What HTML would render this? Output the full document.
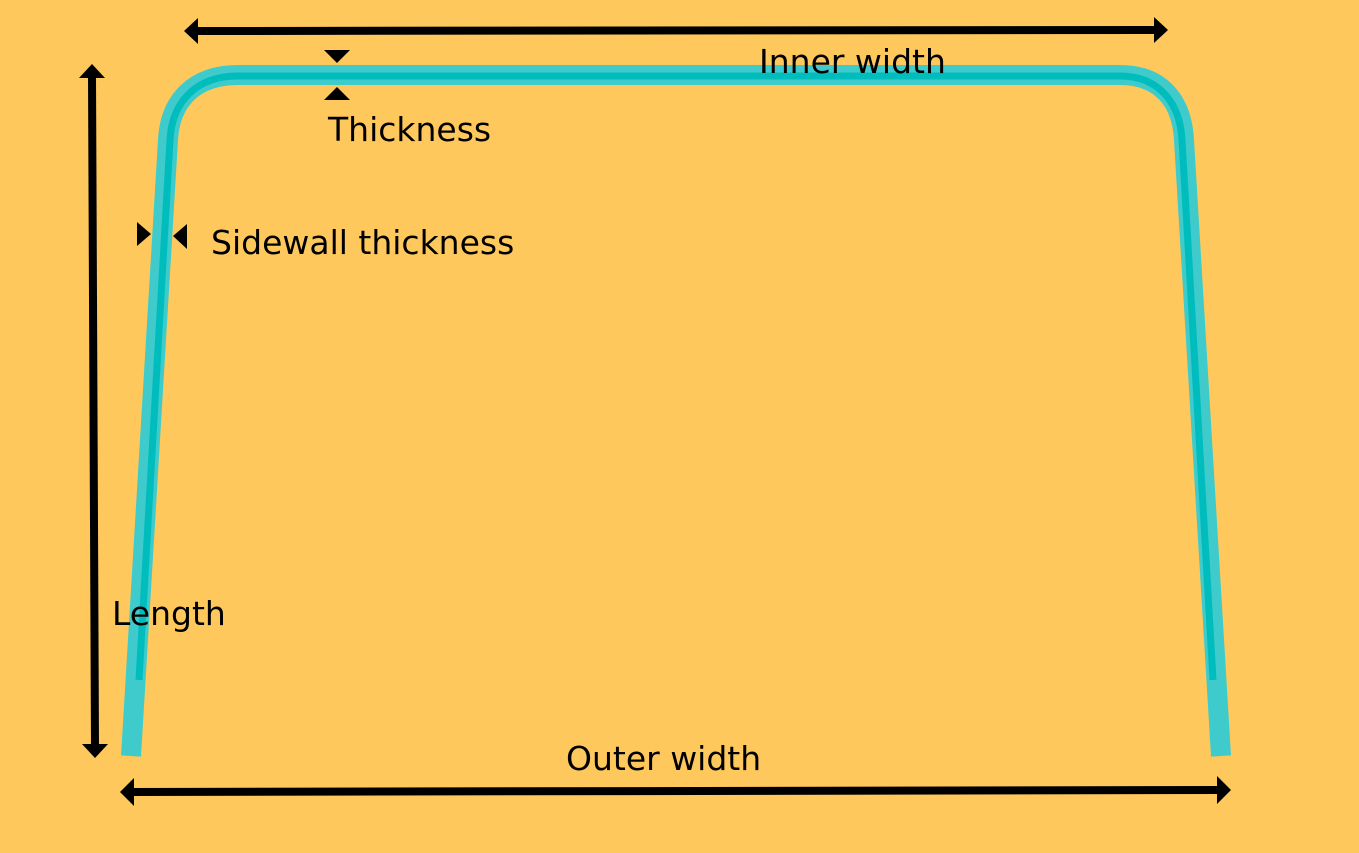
<!DOCTYPE html>
<html><head><meta charset="utf-8"><style>
html,body{margin:0;padding:0;background:#FFC85C;}
svg{display:block}
text{font-family:"DejaVu Sans",sans-serif;font-size:33px;fill:#000}
</style></head><body>
<svg width="1359" height="853" viewBox="0 0 1359 853">
<rect width="1359" height="853" fill="#FFC85C"/>
<path d="M131,756 L168,140 C170,100 195,75 238,75 L1120,75 C1160,75 1182,100 1184,140 L1221,756" fill="none" stroke="#3FCBCB" stroke-width="20"/>
<path d="M139,680 L170,140 C172,102 196,76 238,76 L1120,76 C1158,76 1180,102 1182,140 L1213,680" fill="none" stroke="#00BDBD" stroke-width="7"/>
<g>
<line x1="195" y1="31" x2="1157" y2="30" stroke="#000" stroke-width="8"/>
<polygon points="184,31 198,18 198,44" fill="#000"/>
<polygon points="1168,30 1154,17 1154,43" fill="#000"/>
</g>
<g>
<line x1="92" y1="75" x2="95" y2="748" stroke="#000" stroke-width="8"/>
<polygon points="92,64 79,78 105,78" fill="#000"/>
<polygon points="95,758 82,744 108,744" fill="#000"/>
</g>
<g>
<line x1="130" y1="792" x2="1220" y2="790" stroke="#000" stroke-width="8"/>
<polygon points="120,792 134,778 134,806" fill="#000"/>
<polygon points="1231,790 1217,776 1217,804" fill="#000"/>
</g>
<g>
<polygon points="324,50 350,50 337,63" fill="#000"/>
<polygon points="324,100 350,100 337,87" fill="#000"/>
</g>
<g>
<polygon points="137,222 151,234 137,246" fill="#000"/>
<polygon points="187,224 173,236 187,249" fill="#000"/>
</g>
<text x="759" y="73">Inner width</text>
<text x="328" y="141">Thickness</text>
<text x="211" y="254">Sidewall thickness</text>
<text x="112" y="625">Length</text>
<text x="566" y="770">Outer width</text>
</svg>
</body></html>
